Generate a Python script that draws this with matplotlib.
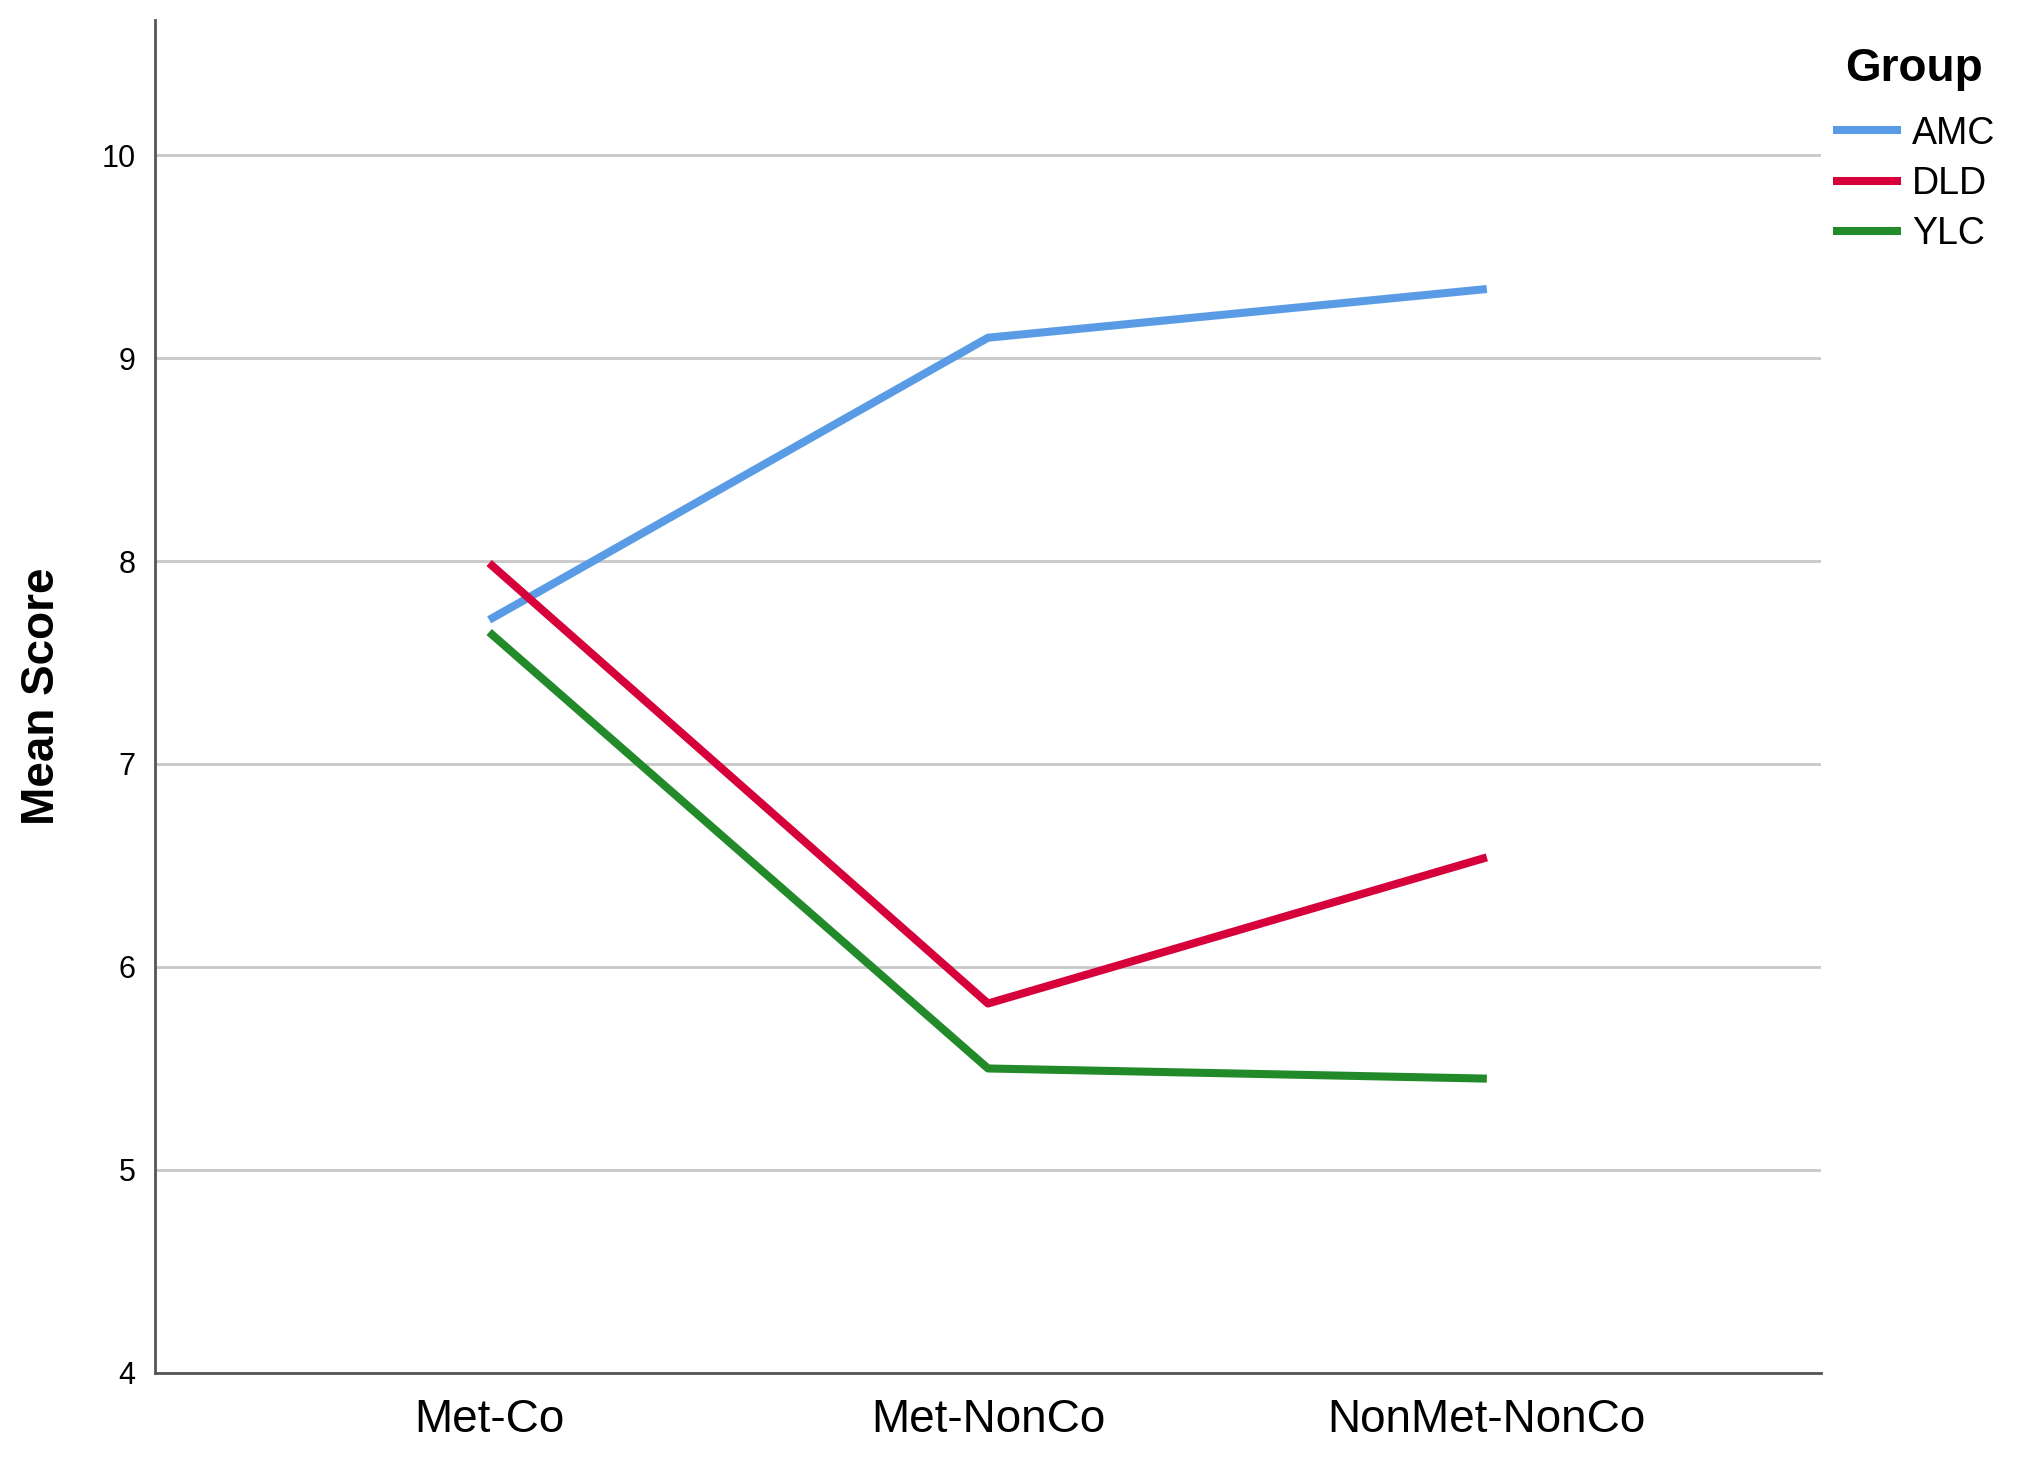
#!/usr/bin/env python3
"""Mean score by condition for the three groups (line chart)."""
import matplotlib
matplotlib.use("Agg")
import matplotlib.pyplot as plt

conditions = ["Met-Co", "Met-NonCo", "NonMet-NonCo"]
groups = ["AMC", "DLD", "YLC"]
amc = [7.71, 9.10, 9.34]
dld = [7.99, 5.82, 6.54]
ylc = [7.65, 5.50, 5.45]
colors = ["#5a9be6", "#d6003a", "#238a2a"]
yticks = [4, 5, 6, 7, 8, 9, 10]


def main():
    plt.rcParams["font.family"] = ["Liberation Sans", "DejaVu Sans"]
    fig = plt.figure(figsize=(20.25, 14.64), dpi=100)
    ax = fig.add_axes([0.0765, 0.0622, 0.8228, 0.9241])

    xs = range(len(conditions))
    for name, vals, c in zip(groups, [amc, dld, ylc], colors):
        ax.plot(xs, vals, color=c, lw=5.8, label=name, solid_capstyle="butt")

    ax.set_xlim(-0.67, 2.67)
    ax.set_ylim(4, 10.665)
    ax.set_yticks(yticks)
    ax.set_yticklabels([str(t) for t in yticks], fontsize=22)
    ax.set_xticks(list(xs))
    ax.set_xticklabels(conditions, fontsize=33)
    ax.tick_params(axis="both", length=0)
    ax.tick_params(axis="y", pad=14)
    ax.tick_params(axis="x", pad=18)
    ax.grid(axis="y", color="#c8c8c8", lw=2)
    ax.set_axisbelow(True)
    for s in ["top", "right"]:
        ax.spines[s].set_visible(False)
    for s in ["left", "bottom"]:
        ax.spines[s].set_color("#555555")
        ax.spines[s].set_linewidth(2)
    ax.set_ylabel("Mean Score", fontsize=33, fontweight="bold", labelpad=27)

    leg = ax.legend(loc="upper left", bbox_to_anchor=(0.896, 0.981),
                    bbox_transform=fig.transFigure, frameon=False,
                    fontsize=27, title="Group", handlelength=1.8,
                    handletextpad=0.3, labelspacing=0.38, borderpad=0)
    leg.get_title().set_fontsize(33)
    leg.get_title().set_fontweight("bold")
    leg._legend_box.sep = 18

    fig.savefig("out.png", dpi=100)


if __name__ == "__main__":
    main()
